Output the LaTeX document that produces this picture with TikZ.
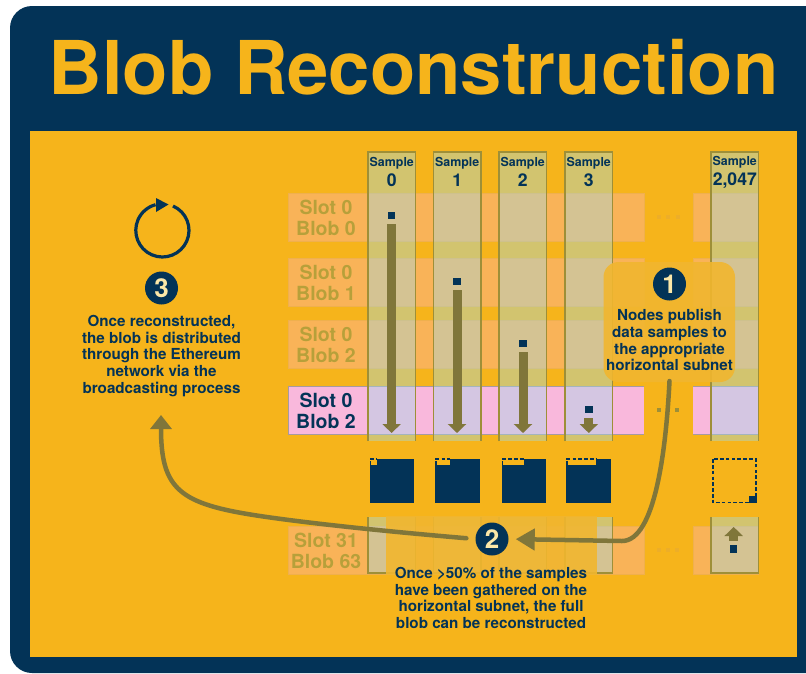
\documentclass[tikz,border=0pt]{standalone}
\usepackage{fontspec}
\setmainfont{TeX Gyre Heros}
\usetikzlibrary{arrows.meta}
\definecolor{navy}{HTML}{033357}
\definecolor{gold}{HTML}{F6B41B}
\definecolor{rowor}{HTML}{F9B358}
\definecolor{rowbd}{HTML}{EFB04E}
\definecolor{rowpk}{HTML}{F9B8DC}
\definecolor{pkbd}{HTML}{A79AA0}
\definecolor{tint}{RGB}{157,220,237}
\definecolor{colbd}{HTML}{9E8F38}
\definecolor{olive}{HTML}{80763A}
\definecolor{slotc}{HTML}{B7A03A}
\definecolor{veil}{HTML}{F1B62F}
\definecolor{digit}{HTML}{FCE8A8}
\definecolor{fdot}{HTML}{EDAE28}
\newcommand\bigdigit{\fontsize{17.6}{19}\selectfont}
\tikzset{
  x=1pt,y=-1pt,
  rowbar/.style={fill=rowor,draw=rowbd,line width=.7pt},
  pinkbar/.style={fill=rowpk,draw=none},
  coltint/.style={fill=tint,fill opacity=.4,draw=none},
  coledge/.style={draw=colbd,line width=1.4pt},
  slotlabel/.style={text=slotc,font=\bfseries\fontsize{19.5}{21}\selectfont,align=center,inner sep=0pt},
  samplelabel/.style={text=navy,font=\bfseries\fontsize{12.4}{19.5}\selectfont,align=center,inner sep=0pt},
  bodytext/.style={text=navy,font=\bfseries\fontsize{15.2}{16.8}\selectfont,align=center,inner sep=0pt},
  badge/.style={circle,fill=navy,text=digit,minimum size=33pt,inner sep=0pt,font=\bfseries\fontsize{26}{26}\selectfont},
  sampledot/.style={rectangle,fill=navy,minimum size=7.5pt,inner sep=0pt},
  shaft/.style={draw=olive,line width=9pt,-{Triangle[length=9pt,width=18pt]},shorten <=4.5pt},
  flow/.style={draw=olive,line width=4.5pt,line cap=round},
  blockfill/.style={fill=navy,draw=none},
  holeedge/.style={draw=navy,line width=1.3pt,dash pattern=on 3.6pt off 2.2pt},
  veilbox/.style={fill=veil,fill opacity=.9,draw=none},
}
\begin{document}
\begin{tikzpicture}
\useasboundingbox (0,0) rectangle (806,673);
\fill[white] (0,0) rectangle (806,673);
% frame and panel
\fill[navy] (806,6) -- (32,6) arc[start angle=-90,end angle=-180,radius=22] -- (10,651) arc[start angle=180,end angle=90,radius=22] -- (806,673) -- cycle;
\fill[gold] (30,131) rectangle (797,657);
\node[text=gold,font=\bfseries\fontsize{74.2}{75}\selectfont,inner sep=0pt,anchor=base] (title) at (413.5,94) {Blob Reconstruction};
% rows
\foreach \y/\n in {193/a,258/b,320/c}{
  \fill[rowbar] (288,\y) rectangle (644,\y+48);
  \fill[rowbar] (693,\y) rectangle (758,\y+48);
}
\fill[pinkbar] (288,386) rectangle (644,434);
\fill[pinkbar] (693,386) rectangle (758,434);
\draw[pkbd,line width=1pt] (644,386) -- (288,386) -- (288,434) -- (644,434);
\draw[pkbd,line width=1pt] (693,386) -- (758,386) (693,434) -- (758,434);
\fill[rowbar] (288,526) rectangle (644,574);
\fill[rowbar] (693,526) rectangle (758,574);
% columns
\foreach \l in {368,433.5,499,565,711}{
  \fill[coltint] (\l,152) rectangle (\l+47.5,441);
  \draw[coledge] (\l,441) -- (\l,152) -- (\l+47.5,152) -- (\l+47.5,441);
  \fill[coltint] (\l,517) rectangle (\l+47.5,573);
  \draw[coledge] (\l,517) -- (\l,573) -- (\l+47.5,573) -- (\l+47.5,517);
}
% row labels
\node[slotlabel] (r0) at (326,217.5) {Slot 0\\Blob 0};
\node[slotlabel] (r1) at (326,282.5) {Slot 0\\Blob 1};
\node[slotlabel] (r2) at (326,345) {Slot 0\\Blob 2};
\node[slotlabel,text=navy] (r3) at (326,411) {Slot 0\\Blob 2};
\node[slotlabel] (r4) at (326,551) {Slot 31\\Blob 63};
% headers
\node[samplelabel] (s0) at (391.8,172) {Sample\\{\bigdigit 0}};
\node[samplelabel] (s1) at (457.2,172) {Sample\\{\bigdigit 1}};
\node[samplelabel] (s2) at (522.8,172) {Sample\\{\bigdigit 2}};
\node[samplelabel] (s3) at (588.8,172) {Sample\\{\bigdigit 3}};
\node[samplelabel] (s4) at (734.8,172.5) {Sample\\{\bigdigit 2,047}};
% ellipsis dots
\foreach \x in {659,668,678}{\fill[fdot] (\x-2,215) rectangle (\x+2,219);}
\foreach \x in {659,668,677}{\fill[fdot] (\x-2,548) rectangle (\x+2,552);}
\foreach \x in {659,677}{\fill[colbd] (\x-2,408) rectangle (\x+2,412);}
% veils
\fill[veilbox,rounded corners=15pt] (603.5,262) rectangle (735,382);
\fill[veilbox] (386,516) rectangle (597,575);
% samples dropping into the subnet
\node[sampledot] (d0) at (391.6,215.7) {};
\node[sampledot] (d1) at (457,281.7) {};
\node[sampledot] (d2) at (523,343.7) {};
\node[sampledot] (d3) at (588.8,409.7) {};
\node[sampledot] (d4) at (733.7,549) {};
\coordinate (e0) at (391.6,433);
\coordinate (e1) at (457,433);
\coordinate (e2) at (523,433);
\coordinate (e3) at (588.8,433);
\coordinate (e4) at (733.7,527);
\draw[shaft] (d0) ++(0,4) -- (e0);
\draw[shaft] (d1) ++(0,4) -- (e1);
\draw[shaft] (d2) ++(0,4) -- (e2);
\draw[shaft] (d3) ++(0,4) -- (e3);
\draw[shaft] (d4) ++(0,-4) -- (e4);
% reconstruction blocks
\foreach \l/\w in {370/7,435.3/15,502/22,566.3/30}{
  \fill[blockfill] (\l,458.5) rectangle (\l+44.3,503);
  \fill[gold] (\l,458.5) rectangle (\l+\w,465);
  \draw[holeedge] (\l+.6,465) -- (\l+.6,459.1) -- (\l+\w,459.1);
}
\fill[navy] (749,496) rectangle (756.6,503);
\draw[holeedge] (713,459.1) rectangle (756,502.6);
% badges and text
\node[badge] (c1) at (669.5,284) {1};
\node[badge] (c2) at (492,539) {2};
\node[badge] (c3) at (161.5,288) {3};
\node[bodytext] (t1) at (669.5,340) {Nodes publish\\data samples to\\the appropriate\\horizontal subnet};
\node[bodytext] (t2) at (491,598) {Once >50\% of the samples\\have been gathered on the\\horizontal subnet, the full\\blob can be reconstructed};
\node[bodytext] (t3) at (161.5,356) {Once reconstructed,\\the blob is distributed\\through the Ethereum\\network via the\\broadcasting process};
% connector free ends
\coordinate (b1) at (669.5,381);
\coordinate (a3) at (161,415);
% connectors
\draw[flow,-{Triangle[length=19pt,width=21pt]},shorten >=7pt] (b1) .. controls (666,450) and (655,541) .. (622,541) -- (c2.east);
\draw[flow,-{Triangle[length=14pt,width=21pt]},shorten <=9pt] (c2.west) .. controls (370,530) and (300,522) .. (260,516) .. controls (180,504) and (161,490) .. (a3);
% reload icon
\draw[navy,line width=3.2pt] (173,206) arc[start angle=-66.5,end angle=255,radius=26.6];
\fill[navy] (168.5,204.5) -- (156,198) -- (156,212) -- cycle;
\end{tikzpicture}
\end{document}
